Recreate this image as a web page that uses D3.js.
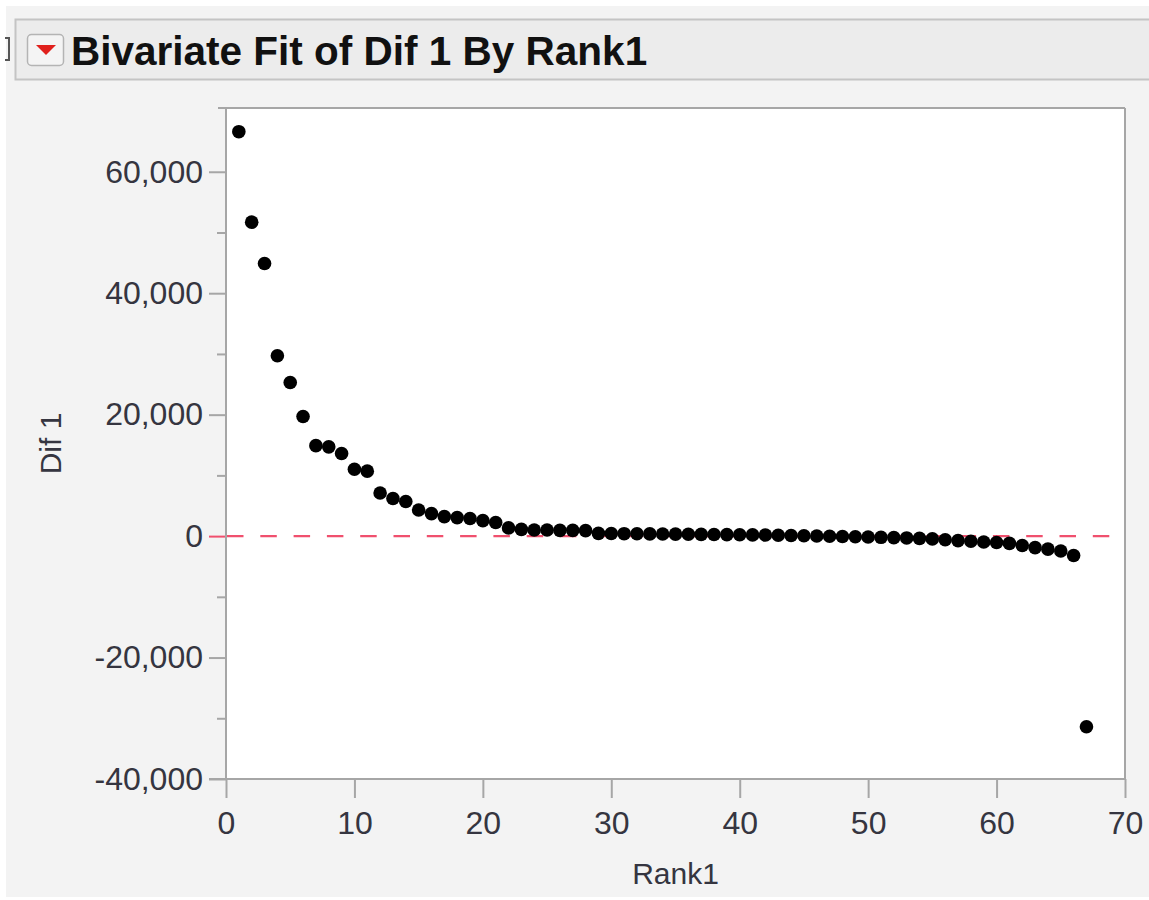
<!DOCTYPE html>
<html>
<head>
<meta charset="utf-8">
<script src="https://cdn.jsdelivr.net/npm/d3@7/dist/d3.min.js"></script>
<style>
  html, body { margin: 0; padding: 0; background: #ffffff; }
  svg { display: block; }
</style>
</head>
<body>
<svg id="chart" width="1149" height="900"></svg>
<script>
// ---- data ----
const ranks = [1,2,3,4,5,6,7,8,9,10,11,12,13,14,15,16,17,18,19,20,
  21,22,23,24,25,26,27,28,29,30,31,32,33,34,35,36,37,38,39,40,
  41,42,43,44,45,46,47,48,49,50,51,52,53,54,55,56,57,58,59,60,
  61,62,63,64,65,66,67];
const dif1 = [66600,51700,44900,29700,25300,19700,14900,14700,13600,11000,
  10700,7100,6200,5700,4300,3700,3200,3050,2900,2550,
  2250,1350,1100,1000,1000,950,950,900,450,420,
  400,380,360,340,320,300,280,260,240,220,
  200,180,150,100,60,20,-20,-60,-100,-150,
  -200,-250,-300,-380,-460,-600,-750,-850,-980,-1050,
  -1200,-1550,-1900,-2150,-2450,-3200,-31400];
const xTicks = [0,10,20,30,40,50,60,70];
const yTicks = [-40000,-20000,0,20000,40000,60000];
const yMinorTicks = [-30000,-10000,10000,30000,50000];
const title = "Bivariate Fit of Dif 1 By Rank1";
const xLabel = "Rank1";
const yLabel = "Dif 1";
const refLineValue = 0;

// ---- layout ----
const svg = d3.select("#chart");
const L = 226, R = 1125, T = 108, B = 779;
const x = d3.scaleLinear().domain([0, 70]).range([L, R]);
const y = d3.scaleLinear().domain([-40000, 70500]).range([B, T]);
const axisColor = "#a6a6a6";
const textColor = "#353540";
const font = "'Liberation Sans', Arial, sans-serif";
const commaFmt = d3.format(",");
const yFmt = d => commaFmt(d).replace("\u2212", "-");

// panel background
svg.append("rect").attr("x", 0).attr("y", 0).attr("width", 1149).attr("height", 900).attr("fill", "#ffffff");
svg.append("rect").attr("x", 6).attr("y", 6).attr("width", 1143).attr("height", 891).attr("fill", "#f3f3f3");

// title bar
svg.append("rect").attr("x", 15.5).attr("y", 19.5).attr("width", 1140).attr("height", 60)
  .attr("fill", "#ececec").attr("stroke", "#c4c4c4").attr("stroke-width", 2);
// left bracket glyph
svg.append("path").attr("d", "M5,38 L9,38 L9,60 L5,60")
  .attr("fill", "none").attr("stroke", "#555").attr("stroke-width", 2);
// red disclosure button
svg.append("rect").attr("x", 27.5).attr("y", 34.5).attr("width", 36).attr("height", 31).attr("rx", 4)
  .attr("fill", "#f4f4f4").attr("stroke", "#b4b4b4").attr("stroke-width", 1.5);
svg.append("path").attr("d", "M36,45 L56,45 L46,55 Z").attr("fill", "#e0201c");
svg.append("text").attr("x", 71).attr("y", 65)
  .attr("font-family", font).attr("font-weight", "bold").attr("font-size", 40.5)
  .attr("fill", "#111").text(title);

// plot background
svg.append("rect").attr("x", L).attr("y", T).attr("width", R - L).attr("height", B - T).attr("fill", "#ffffff");

// y axis
const yAxis = d3.axisLeft(y).tickValues(yTicks).tickFormat(yFmt).tickSize(17).tickPadding(6);
const gy = svg.append("g").attr("transform", `translate(${L},0)`).call(yAxis);
gy.select(".domain").remove();
gy.selectAll(".tick line").attr("stroke", axisColor).attr("stroke-width", 2);
gy.selectAll(".tick text").attr("font-family", font).attr("font-size", 32).attr("fill", textColor);
gy.selectAll(".tick").filter(d => d === 0).select("line").attr("stroke", "#f0506e");

const yAxisMinor = d3.axisLeft(y).tickValues(yMinorTicks).tickFormat("").tickSize(9);
const gym = svg.append("g").attr("transform", `translate(${L},0)`).call(yAxisMinor);
gym.select(".domain").remove();
gym.selectAll(".tick line").attr("stroke", axisColor).attr("stroke-width", 2);

// x axis
const xAxis = d3.axisBottom(x).tickValues(xTicks).tickFormat(d3.format("d")).tickSize(19).tickPadding(13);
const gx = svg.append("g").attr("transform", `translate(0,${B})`).call(xAxis);
gx.select(".domain").remove();
gx.selectAll(".tick line").attr("stroke", axisColor).attr("stroke-width", 2);
gx.selectAll(".tick text").attr("font-family", font).attr("font-size", 32).attr("fill", textColor);

// frame
svg.append("line").attr("x1", 218).attr("x2", R).attr("y1", T).attr("y2", T).attr("stroke", axisColor).attr("stroke-width", 2);
svg.append("line").attr("x1", L).attr("x2", L).attr("y1", T).attr("y2", B).attr("stroke", axisColor).attr("stroke-width", 2);
svg.append("line").attr("x1", 209).attr("x2", R).attr("y1", B).attr("y2", B).attr("stroke", axisColor).attr("stroke-width", 2);
svg.append("line").attr("x1", R).attr("x2", R).attr("y1", T).attr("y2", B).attr("stroke", axisColor).attr("stroke-width", 2);

// reference line at 0
svg.append("line").attr("x1", L + 1).attr("x2", R - 1).attr("y1", y(refLineValue)).attr("y2", y(refLineValue))
  .attr("stroke", "#f0506e").attr("stroke-width", 2.2).attr("stroke-dasharray", "16.5,16.8");

// points
svg.append("g").selectAll("circle").data(ranks.map((r, i) => ({r, v: dif1[i]})))
  .join("circle")
  .attr("cx", d => x(d.r)).attr("cy", d => y(d.v)).attr("r", 6.8)
  .attr("fill", "#000");

// axis titles
svg.append("text").attr("x", (L + R) / 2).attr("y", 884).attr("text-anchor", "middle")
  .attr("font-family", font).attr("font-size", 30).attr("fill", textColor).text(xLabel);
svg.append("text").attr("transform", `translate(61,${(T + B) / 2}) rotate(-90)`).attr("text-anchor", "middle")
  .attr("font-family", font).attr("font-size", 30).attr("fill", textColor).text(yLabel);
</script>
</body>
</html>
